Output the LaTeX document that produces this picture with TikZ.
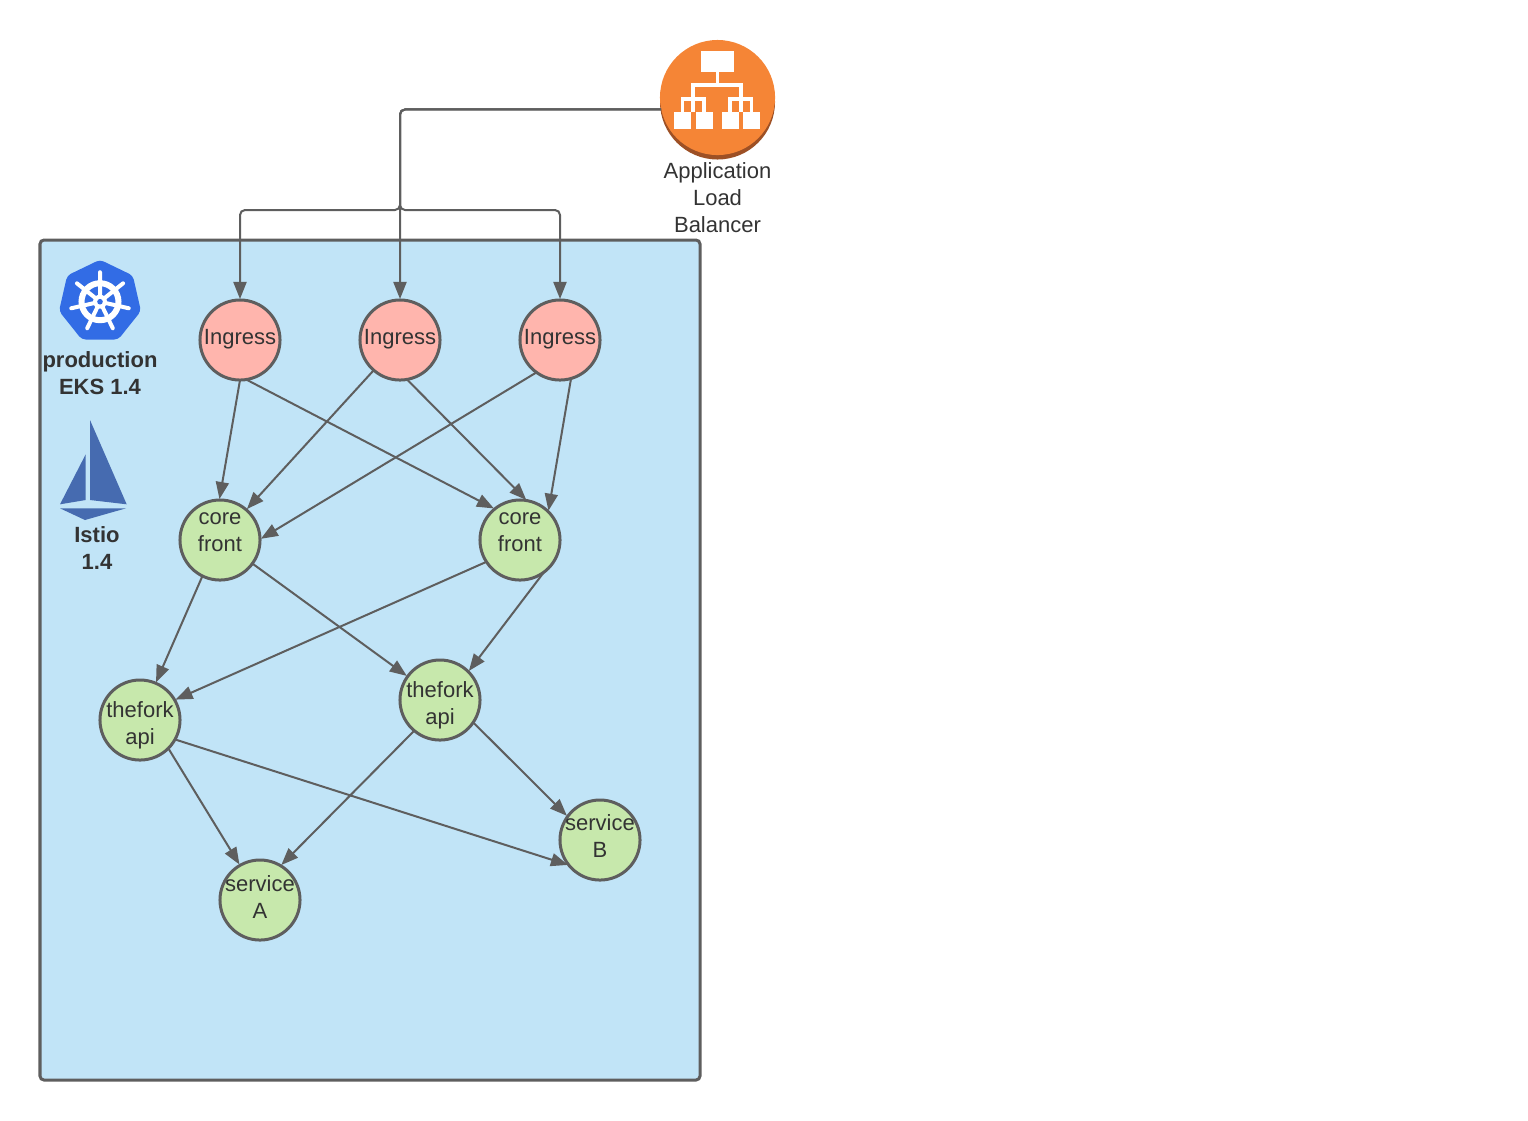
\documentclass[tikz,border=0pt]{standalone}
\usepackage{fontspec}
\setmainfont{Liberation Sans}
\usetikzlibrary{arrows.meta}
\definecolor{strokecolor}{HTML}{5E5E5E}
\definecolor{textcolor}{HTML}{333333}
\definecolor{clustercolor}{HTML}{C1E4F7}
\definecolor{ingresscolor}{HTML}{FFB5AD}
\definecolor{podcolor}{HTML}{C7E8AC}
\definecolor{albcolor}{HTML}{F58536}
\definecolor{albshade}{HTML}{9D5025}
\definecolor{k8scolor}{HTML}{326CE5}
\definecolor{istiocolor}{HTML}{466BB0}
\tikzset{
  disc/.style={circle,draw=strokecolor,line width=.03cm,minimum size=.8cm,inner sep=0pt,outer sep=0pt},
  caption/.style={align=center,text=textcolor,inner sep=0pt,font=\fontsize{6.26}{7.68}\selectfont},
  boldcaption/.style={caption,font=\fontsize{6.26}{7.68}\selectfont\bfseries},
  conn/.style={draw=strokecolor,line width=.02cm,-{Triangle[length=.17cm,width=.13cm]},shorten >=.01cm},
  iconline/.style={draw=white,line width=.035cm},
}

\begin{document}
\begin{tikzpicture}[x=.01cm,y=-.01cm]
  \useasboundingbox (0,0) rectangle (1528,1120);
  % cluster
  \draw[fill=clustercolor,draw=strokecolor,line width=.03cm,rounded corners=.04cm] (40,240) rectangle (700,1080);
  % load balancer
  \fill[albshade] (717.5,102) circle (57.5);
  \node[circle,fill=albcolor,minimum size=1.15cm,inner sep=0pt,outer sep=0pt] (alb) at (717.5,97.5) {};
  \fill[white] (700.7,51) rectangle (734.3,71.7);
  \fill[white] (674,111.7) rectangle (691,128.7); \fill[white] (695.7,111.7) rectangle (712.7,128.7);
  \fill[white] (721.7,111.7) rectangle (738.7,128.7); \fill[white] (743,111.7) rectangle (760,128.7);
  \draw[iconline] (717.5,71.7) -- (717.5,85) (693,112) -- (693,85) -- (741,85) -- (741,112);
  \draw[iconline] (682.5,112) -- (682.5,99) -- (704,99) -- (704,112) (730,112) -- (730,99) -- (751.5,99) -- (751.5,112);
  \node[caption] (albtxt) at (717.5,197.5) {Application\\Load\\Balancer};
  % kubernetes logo
  \coordinate (K) at (100,301.7);
  \begin{scope}[shift={(K)}]
    \fill[k8scolor,rounded corners=.04cm] (-90:42) -- (-38.57:42) -- (12.86:42) -- (64.29:42) -- (115.71:42) -- (167.14:42) -- (218.57:42) -- cycle;
    \draw[white,line width=.06cm] (0,0) circle (18.5);
    \draw[white,line width=.04cm,line cap=round] (-90:29.5) -- (-90:7) (-38.57:29.5) -- (-38.57:7) (12.86:29.5) -- (12.86:7) (64.29:29.5) -- (64.29:7)
      (115.71:29.5) -- (115.71:7) (167.14:29.5) -- (167.14:7) (218.57:29.5) -- (218.57:7);
    \fill[white] (0,0) circle (7);
    \fill[k8scolor] (0,0) circle (2.8);
  \end{scope}
  \node[boldcaption] (k8stxt) at (100,373) {production\\EKS 1.4};
  % istio logo
  \fill[istiocolor] (90,420) -- (126.7,504.3) -- (90,500) -- cycle;
  \fill[istiocolor] (85.7,454.3) -- (85.7,500) -- (60,504.3) -- cycle;
  \fill[istiocolor] (60,508.3) -- (126,508.3) -- (85,520) -- cycle;
  \node[boldcaption] (istiotxt) at (97,548) {Istio\\1.4};
  % ingress
  \node[disc,fill=ingresscolor] (ing1) at (240,340) {};
  \node[disc,fill=ingresscolor] (ing2) at (400,340) {};
  \node[disc,fill=ingresscolor] (ing3) at (560,340) {};
  \node[caption] (ing1txt) at (240,339) {Ingress};
  \node[caption] (ing2txt) at (400,339) {Ingress};
  \node[caption] (ing3txt) at (560,339) {Ingress};
  % core front
  \node[disc,fill=podcolor] (cf1) at (220,540) {};
  \node[disc,fill=podcolor] (cf2) at (520,540) {};
  \node[caption] (cf1txt) at (220,532.5) {core\\front};
  \node[caption] (cf2txt) at (520,532.5) {core\\front};
  % thefork api
  \node[disc,fill=podcolor] (api1) at (140,720) {};
  \node[disc,fill=podcolor] (api2) at (440,700) {};
  \node[caption] (api1txt) at (140,725) {thefork\\api};
  \node[caption] (api2txt) at (440,705) {thefork\\api};
  % services
  \node[disc,fill=podcolor] (svcb) at (600,840) {};
  \node[disc,fill=podcolor] (svca) at (260,900) {};
  \node[caption] (svcbtxt) at (600,836) {service\\B};
  \node[caption] (svcatxt) at (260,897) {service\\A};
  % balancer to ingress
  \coordinate (split) at (400,210); \coordinate (trunk) at (alb.192 -| split);
  \draw[conn,rounded corners=.05cm] (alb.192) -- (trunk) -- (split) -- (split -| ing1) -- (ing1.north);
  \draw[conn,rounded corners=.05cm] (alb.192) -- (trunk) -- (ing2.north);
  \draw[conn,rounded corners=.05cm] (alb.192) -- (trunk) -- (split) -- (split -| ing3) -- (ing3.north);
  % ingress to core front
  \draw[conn] (ing1.-90) -- (cf1.91);
  \draw[conn] (ing1.-81) -- (cf2.129);
  \draw[conn] (ing2.-131) -- (cf1.49);
  \draw[conn] (ing2.-80) -- (cf2.80);
  \draw[conn] (ing3.-126) -- (cf1.1);
  \draw[conn] (ing3.-74) -- (cf2.45);
  % core front to thefork api
  \draw[conn] (cf1.-116) -- (api1.67);
  \draw[conn] (cf1.-36) -- (api2.144);
  \draw[conn] (cf2.-147) -- (api1.30);
  \draw[conn] (cf2.-53) -- (api2.45);
  % thefork api to services
  \draw[conn] (api1.-45) -- (svca.120);
  \draw[conn] (api1.-29) -- (svcb.-141);
  \draw[conn] (api2.-130) -- (svca.59);
  \draw[conn] (api2.-34) -- (svcb.144);
\end{tikzpicture}
\end{document}
